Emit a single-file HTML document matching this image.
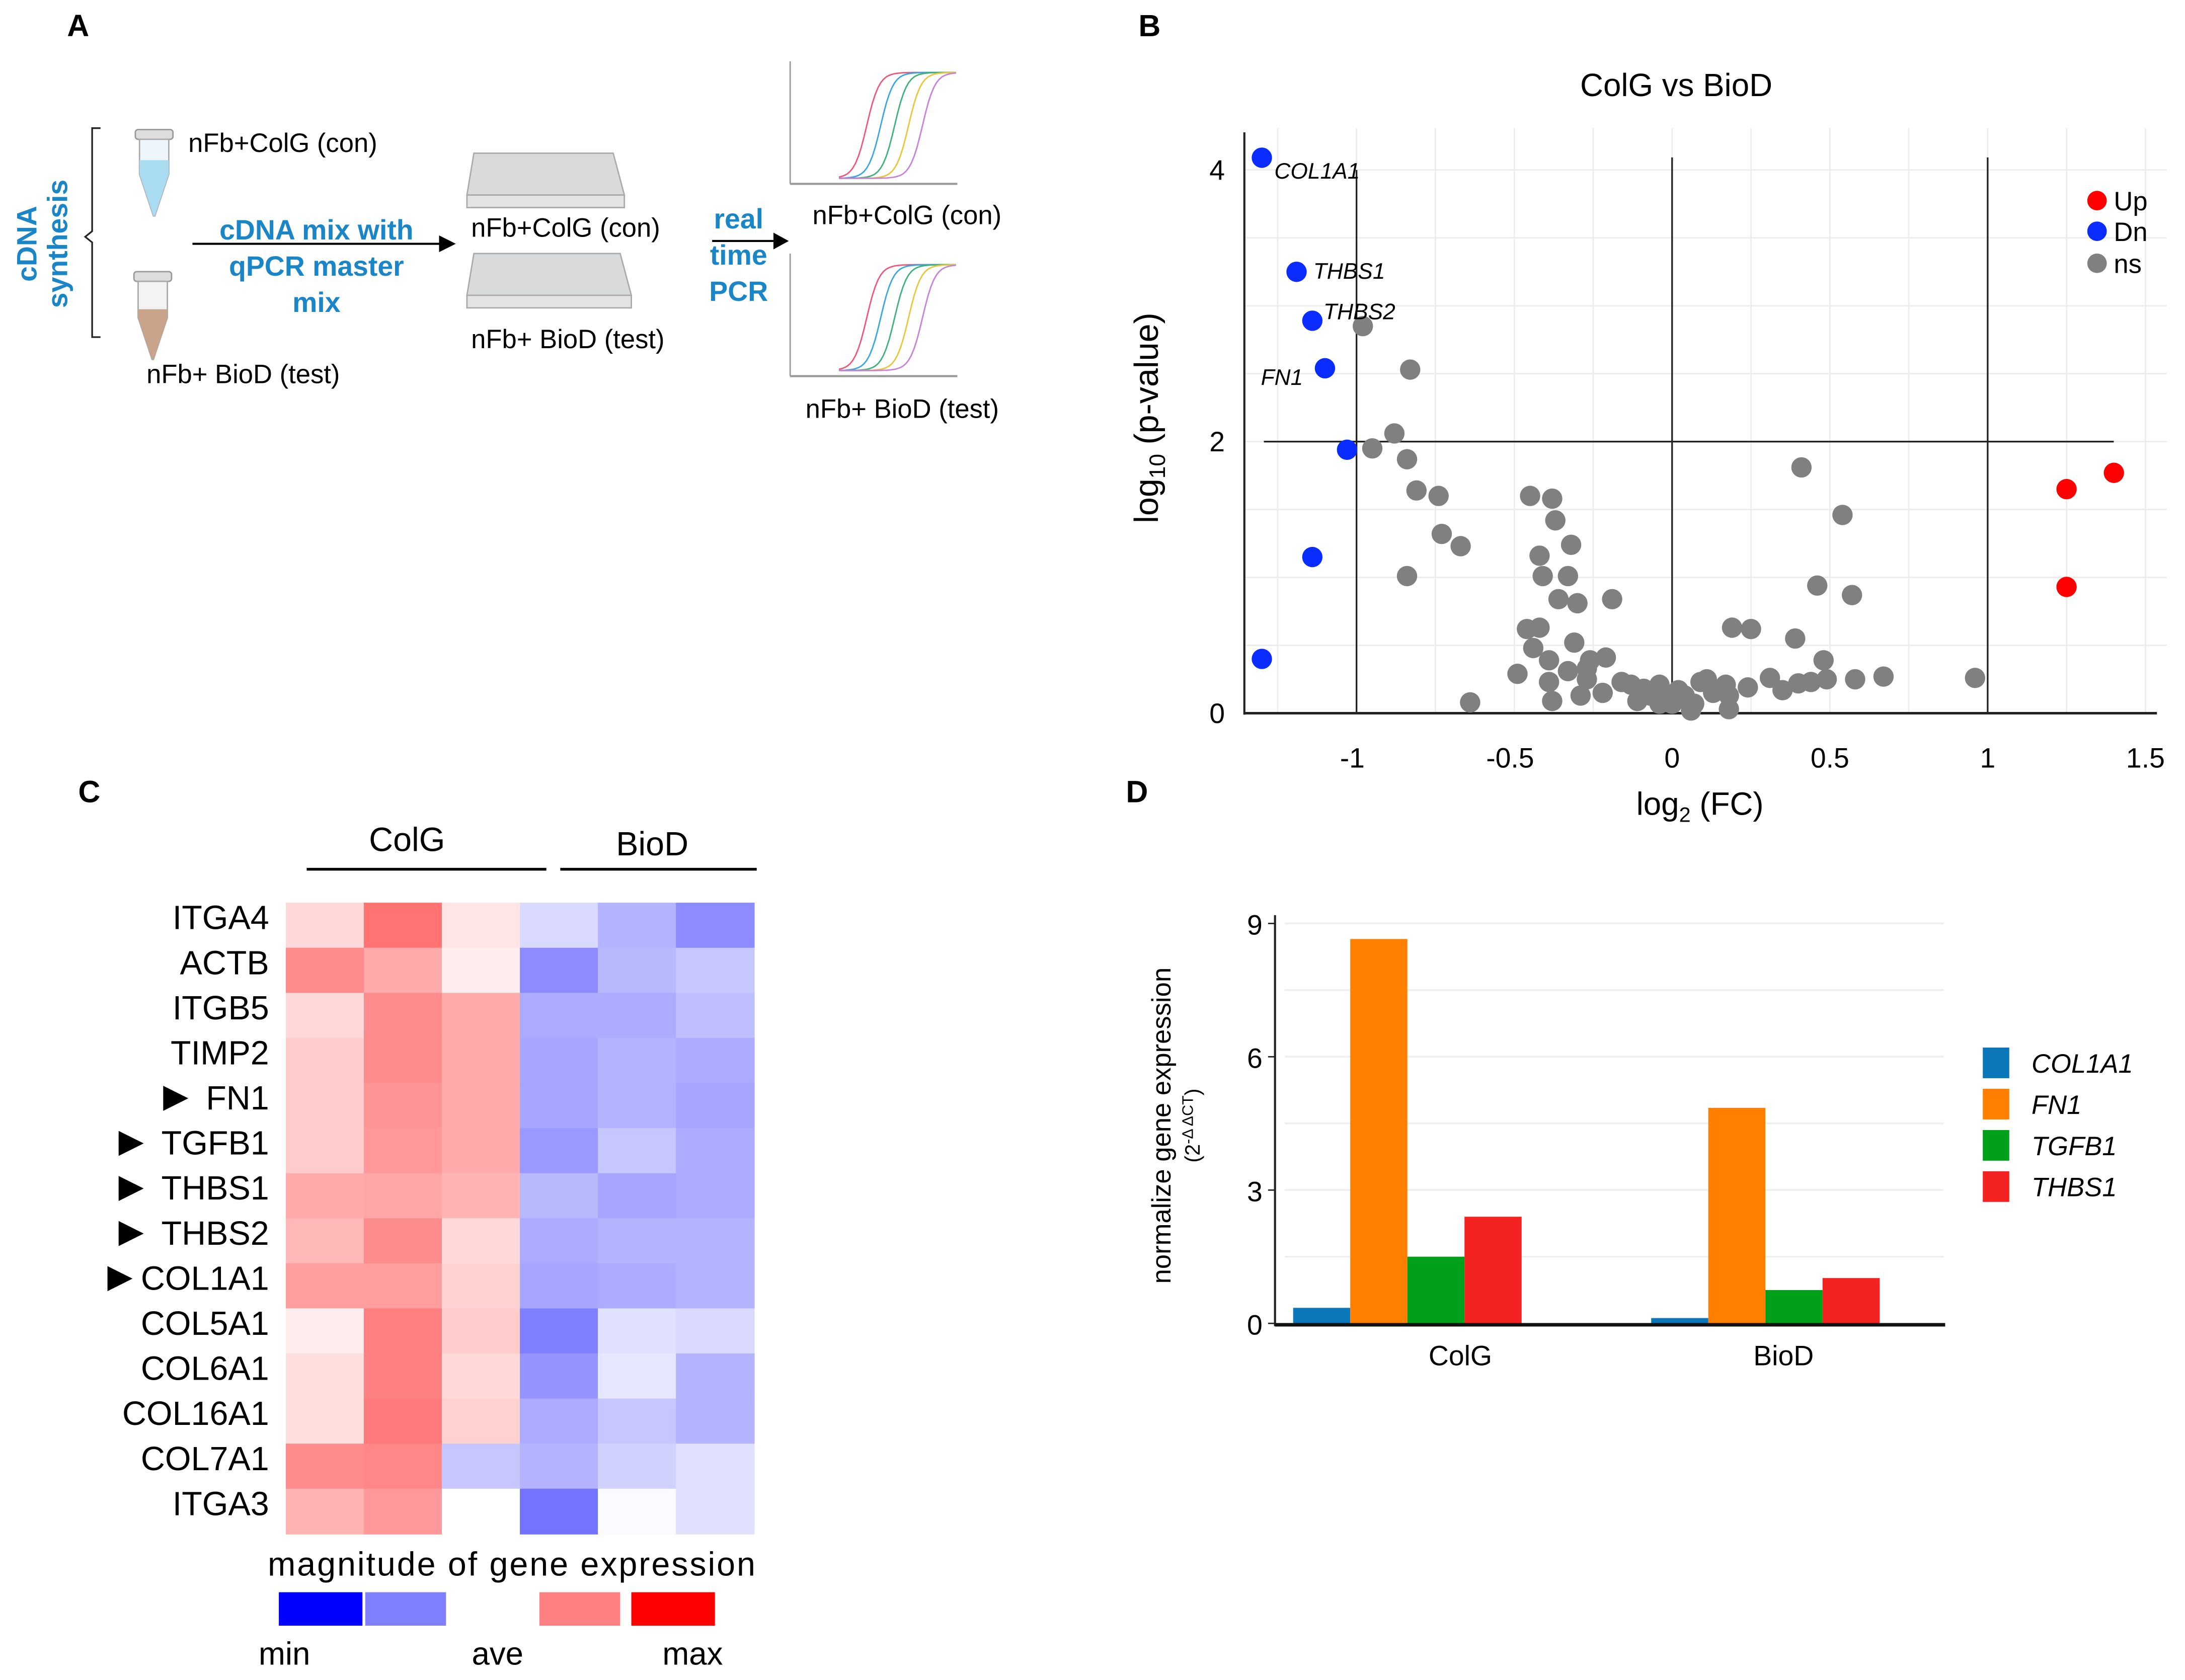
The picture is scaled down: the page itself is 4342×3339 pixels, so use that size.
<!DOCTYPE html>
<html><head><meta charset="utf-8"><style>
html,body{margin:0;padding:0;background:#fff}
svg{display:block}
text{font-family:"Liberation Sans",sans-serif}
</style></head><body>
<svg id="fig" width="4342" height="3339" viewBox="0 0 1568 1206" xmlns="http://www.w3.org/2000/svg">
<rect width="1568" height="1206" fill="#fff"/>
<!-- Panel A -->
<g>
<text x="48" y="26" font-size="22" font-weight="bold">A</text>
<path d="M72,92 L66,92 L66,166 L61,170 L66,174 L66,242 L72,242" fill="none" stroke="#222" stroke-width="1.2"/>
<text transform="translate(26,175) rotate(-90)" text-anchor="middle" font-size="20" font-weight="bold" fill="#1a86c8"><tspan x="0" y="0">cDNA</tspan><tspan x="0" y="22">synthesis</tspan></text>
<g>
<rect x="97" y="93" width="27" height="7" rx="2" fill="#ddd" stroke="#999"/>
<path d="M100,100 L121,100 L121,125 L111,155 L110,155 L100,125 Z" fill="#eef6fb" stroke="#aaa"/>
<path d="M100,115 L121,115 L121,125 L111,155 L110,155 L100,125 Z" fill="#a9dcf1"/>
</g>
<g>
<rect x="96" y="195" width="27" height="7" rx="2" fill="#ddd" stroke="#999"/>
<path d="M99,202 L120,202 L120,228 L110,258 L109,258 L99,228 Z" fill="#f3f3f3" stroke="#aaa"/>
<path d="M99,222 L120,222 L120,228 L110,258 L109,258 L99,228 Z" fill="#c9a48a"/>
</g>
<text x="135" y="109" font-size="19">nFb+ColG (con)</text>
<text x="105" y="275" font-size="19">nFb+ BioD (test)</text>
<line x1="138" y1="175" x2="315" y2="175" stroke="#000" stroke-width="1.5"/>
<path d="M315,169 L327,175 L315,181 Z" fill="#000"/>
<text x="227" y="172" text-anchor="middle" font-size="20" font-weight="bold" fill="#1a86c8"><tspan x="227">cDNA mix with</tspan><tspan x="227" dy="26">qPCR master</tspan><tspan x="227" dy="26">mix</tspan></text>
<g>
<path d="M340,110 L440,110 L448,140 L335,140 Z" fill="#d8dadc" stroke="#aaa"/>
<rect x="335" y="140" width="113" height="9" fill="#e4e4e4" stroke="#aaa"/>
</g>
<g>
<path d="M340,182 L445,182 L453,212 L335,212 Z" fill="#d8dadc" stroke="#aaa"/>
<rect x="335" y="212" width="118" height="9" fill="#e4e4e4" stroke="#aaa"/>
</g>
<text x="338" y="170" font-size="19">nFb+ColG (con)</text>
<text x="338" y="250" font-size="19">nFb+ BioD (test)</text>
<text x="530" y="164" text-anchor="middle" font-size="20" font-weight="bold" fill="#1a86c8"><tspan x="530">real</tspan><tspan x="530" dy="26">time</tspan><tspan x="530" dy="26">PCR</tspan></text>
<line x1="511" y1="173" x2="555" y2="173" stroke="#000" stroke-width="1.5"/>
<path d="M555,167 L566,173 L555,179 Z" fill="#000"/>
<g id="qpcr1"></g>
<g id="qpcr2"></g>
<text x="583" y="161" font-size="19">nFb+ColG (con)</text>
<text x="578" y="300" font-size="19">nFb+ BioD (test)</text>
</g>

<!-- Panel B -->
<g>
<text x="817" y="26" font-size="22" font-weight="bold">B</text>
<text x="1203" y="69" text-anchor="middle" font-size="23">ColG vs BioD</text>
<g id="volc"></g>
<text transform="translate(831,300) rotate(-90)" text-anchor="middle" font-size="24">log<tspan font-size="16" dy="5">10</tspan><tspan dy="-5"> (p-value)</tspan></text>
<text x="1220" y="585" text-anchor="middle" font-size="23">log<tspan font-size="15" dy="5">2</tspan><tspan dy="-5"> (FC)</tspan></text>
</g>

<!-- Panel C -->
<g>
<text x="56" y="576" font-size="22" font-weight="bold">C</text>
<text x="292" y="611" text-anchor="middle" font-size="24">ColG</text>
<line x1="220" y1="624" x2="392" y2="624" stroke="#000" stroke-width="2"/>
<text x="468" y="614" text-anchor="middle" font-size="24">BioD</text>
<line x1="402" y1="624" x2="543" y2="624" stroke="#000" stroke-width="2"/>
<g id="heat"></g>
<text x="367" y="1131" text-anchor="middle" font-size="24" textLength="350" lengthAdjust="spacing">magnitude of gene expression</text>
<rect x="200" y="1143" width="60" height="24" fill="#0000ff"/>
<rect x="262" y="1143" width="58" height="24" fill="#8080ff"/>
<rect x="387" y="1143" width="58" height="24" fill="#ff8080"/>
<rect x="453" y="1143" width="60" height="24" fill="#ff0000"/>
<text x="204" y="1195" text-anchor="middle" font-size="23">min</text>
<text x="357" y="1195" text-anchor="middle" font-size="23">ave</text>
<text x="497" y="1195" text-anchor="middle" font-size="23">max</text>
</g>

<!-- Panel D -->
<g>
<text x="808" y="576" font-size="22" font-weight="bold">D</text>
<g id="bars"></g>
<text transform="translate(840,808) rotate(-90)" text-anchor="middle" font-size="19">normalize gene expression</text>
<text transform="translate(861,808) rotate(-90)" text-anchor="middle" font-size="15">(2<tspan font-size="11" dy="-5">-Δ ΔCT</tspan><tspan dy="5">)</tspan></text>
</g>
</svg>
<script>
const NS="http://www.w3.org/2000/svg";
function mk(parent,tag,attrs){const e=document.createElementNS(NS,tag);for(const k in attrs)e.setAttribute(k,attrs[k]);parent.appendChild(e);return e;}

// ---------- Volcano data ----------
const downX=[-1.30,-1.19,-1.14,-1.10,-1.03,-1.14,-1.30];
const downY=[4.09,3.25,2.89,2.54,1.94,1.15,0.40];
const downLabels=["COL1A1","THBS1","THBS2","FN1","","",""];
const upX=[1.40,1.25,1.25];
const upY=[1.77,1.65,0.93];
const nsX=[-0.98,-0.83,-0.88,-0.95,-0.84,-0.81,-0.74,-0.73,-0.67,-0.84,-0.45,-0.38,-0.37,-0.42,-0.32,-0.41,-0.33,-0.36,-0.30,-0.42,-0.19,-0.46,-0.44,-0.31,-0.39,-0.39,-0.26,-0.27,-0.21,-0.33,-0.49,-0.27,-0.16,-0.64,-0.38,-0.29,-0.22,-0.13,-0.09,-0.07,-0.04,-0.02,0.02,0.04,0.07,0.09,0.11,-0.04,-0.11,0.00,0.06,0.17,0.18,0.19,0.25,0.24,0.31,0.35,0.39,0.40,0.44,0.48,0.49,0.41,0.54,0.46,0.57,0.58,0.67,0.96,0.18,0.13];
const nsY=[2.85,2.53,2.06,1.95,1.87,1.64,1.60,1.32,1.23,1.01,1.60,1.58,1.42,1.16,1.24,1.01,1.01,0.84,0.81,0.63,0.84,0.62,0.48,0.52,0.39,0.23,0.39,0.33,0.41,0.31,0.29,0.25,0.23,0.08,0.09,0.13,0.15,0.21,0.18,0.13,0.21,0.14,0.17,0.13,0.07,0.23,0.25,0.07,0.09,0.07,0.02,0.21,0.13,0.63,0.62,0.19,0.26,0.17,0.55,0.22,0.23,0.39,0.25,1.81,1.46,0.94,0.87,0.25,0.27,0.26,0.03,0.15];
const xTicks=[-1,-0.5,0,0.5,1,1.5];
const yTicks=[0,2,4];

const vx=v=>1200+v*226.5, vy=v=>512-v*97.5;
const volc=document.getElementById('volc');
[-1.25,-0.75,-0.25,0.25,0.75,1.25,-1,-0.5,0,0.5,1,1.5].forEach(t=>{const l=mk(volc,'line',{x1:vx(t),x2:vx(t),y1:92,y2:512,stroke:'#ececec','stroke-width':1});

});
[0.5,1,1.5,2,2.5,3,3.5,4].forEach(t=>{const l=mk(volc,'line',{x1:893,x2:1555,y1:vy(t),y2:vy(t),stroke:'#ececec','stroke-width':1});

});
mk(volc,'line',{x1:893,x2:893,y1:95,y2:513,stroke:'#222','stroke-width':1.5});
mk(volc,'line',{x1:893,x2:1548,y1:512,y2:512,stroke:'#222','stroke-width':1.8});
[-1,0,1].forEach(t=>{const l=mk(volc,'line',{x1:vx(t),x2:vx(t),y1:t===-1?122:113,y2:512,stroke:'#222','stroke-width':1.2});

});
const th=mk(volc,'line',{x1:907,x2:1517,y1:vy(2),y2:vy(2),stroke:'#222','stroke-width':1.2});


xTicks.forEach(t=>{const e=mk(volc,'text',{x:vx(t)-(t<0?3:0),y:551,'text-anchor':'middle','font-size':20});e.textContent=String(t);

});
yTicks.forEach(t=>{const e=mk(volc,'text',{x:879,y:vy(t)+7,'text-anchor':'end','font-size':20});e.textContent=String(t);

});
nsX.forEach((x,i)=>{const c=mk(volc,'circle',{cx:vx(x),cy:vy(nsY[i]),r:7.3,fill:'#808080'});

});
downX.forEach((x,i)=>{const c=mk(volc,'circle',{cx:vx(x),cy:vy(downY[i]),r:7.3,fill:'#0a2cff'});

});
upX.forEach((x,i)=>{const c=mk(volc,'circle',{cx:vx(x),cy:vy(upY[i]),r:7.3,fill:'#ff0000'});

});
const lblOff=[[9,15],[12,5],[8,-1],[-46,12]];
downLabels.forEach((s,i)=>{if(!s)return;const e=mk(volc,'text',{x:vx(downX[i])+lblOff[i][0],y:vy(downY[i])+lblOff[i][1],'font-size':16,'font-style':'italic'});e.textContent=s;

});
const leg=[['Up','#ff0000',144],['Dn','#0a2cff',166],['ns','#808080',189]];
leg.forEach(l=>{const c=mk(volc,'circle',{cx:1505,cy:l[2],r:7,fill:l[1]});


const t=mk(volc,'text',{x:1517,y:l[2]+7,'font-size':19});t.textContent=l[0];

});

// ---------- qPCR curves ----------
function qpcr(g,ox,oy){
  mk(g,'line',{x1:ox,x2:ox,y1:oy,y2:oy+88,stroke:'#999','stroke-width':1});
  mk(g,'line',{x1:ox,x2:ox+120,y1:oy+88,y2:oy+88,stroke:'#999','stroke-width':1.5});
  const cols=['#f0567a','#3aa6e0','#3bb27a','#e6c63a','#c880d8'];
  cols.forEach((c,i)=>{const mid=ox+55+i*10;let d='';for(let x=ox+35;x<=ox+120;x+=2){const y=oy+84-76/(1+Math.exp(-(x-mid)/4.5));d+=(d?'L':'M')+x+','+y.toFixed(1);}
  mk(g,'path',{d:d,fill:'none',stroke:c,'stroke-width':1});});
}
qpcr(document.getElementById('qpcr1'),567,44);
qpcr(document.getElementById('qpcr2'),567,182);

// ---------- Heatmap ----------
const genes=["ITGA4","ACTB","ITGB5","TIMP2","FN1","TGFB1","THBS1","THBS2","COL1A1","COL5A1","COL6A1","COL16A1","COL7A1","ITGA3"];
const marked=["FN1","TGFB1","THBS1","THBS2","COL1A1"];
const hITGA4=[0.15,0.55,0.1,-0.15,-0.3,-0.45];
const hACTB=[0.45,0.33,0.07,-0.45,-0.28,-0.22];
const hITGB5=[0.15,0.45,0.33,-0.33,-0.33,-0.25];
const hTIMP2=[0.2,0.45,0.33,-0.35,-0.3,-0.33];
const hFN1=[0.2,0.42,0.33,-0.35,-0.3,-0.35];
const hTGFB1=[0.2,0.4,0.33,-0.4,-0.22,-0.33];
const hTHBS1=[0.33,0.35,0.3,-0.28,-0.35,-0.33];
const hTHBS2=[0.28,0.45,0.15,-0.33,-0.3,-0.3];
const hCOL1A1=[0.38,0.38,0.18,-0.35,-0.33,-0.3];
const hCOL5A1=[0.07,0.5,0.2,-0.5,-0.12,-0.15];
const hCOL6A1=[0.13,0.5,0.15,-0.42,-0.1,-0.3];
const hCOL16A1=[0.13,0.52,0.18,-0.33,-0.22,-0.3];
const hCOL7A1=[0.45,0.47,-0.22,-0.3,-0.18,-0.12];
const hITGA3=[0.3,0.4,0,-0.55,-0.02,-0.12];
const heatRows=[hITGA4,hACTB,hITGB5,hTIMP2,hFN1,hTGFB1,hTHBS1,hTHBS2,hCOL1A1,hCOL5A1,hCOL6A1,hCOL16A1,hCOL7A1,hITGA3];
const heat=document.getElementById('heat');
const hx0=205,hcw=56,hy0=648,hrh=32.36;
function hcol(v){const t=Math.min(1,Math.abs(v));const w=Math.round(255*(1-t));return v>=0?`rgb(255,${w},${w})`:`rgb(${w},${w},255)`;}
heatRows.forEach((row,r)=>{row.forEach((v,c)=>{const e=mk(heat,'rect',{x:hx0+c*hcw,y:hy0+r*hrh,width:hcw+0.5,height:hrh+0.5,fill:hcol(v)});

});
const t=mk(heat,'text',{x:193,y:hy0+r*hrh+19,'text-anchor':'end','font-size':24});t.textContent=genes[r];


if(marked.includes(genes[r])){const tw=genes[r].length*16;const ax=193-tw-(genes[r]==='COL1A1'?20:28);const cy=hy0+r*hrh+11;
const m=mk(heat,'path',{d:`M${ax},${cy-9} L${ax+18},${cy} L${ax},${cy+9} Z`,fill:'#000'});

}});

// ---------- Bar chart ----------
const barGroups=["ColG","BioD"];
const barSeries=["COL1A1","FN1","TGFB1","THBS1"];
const barColors=["#0b77b9","#ff8000","#00a01a","#f52222"];
const valCOL1A1=[0.35,0.12];
const valFN1=[8.65,4.85];
const valTGFB1=[1.5,0.75];
const valTHBS1=[2.4,1.02];
const barVals=[valCOL1A1,valFN1,valTGFB1,valTHBS1];
const barTicks=[0,3,6,9];
const bars=document.getElementById('bars');
const by=v=>950-v*31.9;const groupX=[928,1185];const bw=41;const labelX=[1048,1280];
[1.5,3,4.5,6,7.5,9].forEach(t=>{const l=mk(bars,'line',{x1:922,x2:1395,y1:by(t),y2:by(t),stroke:'#eee','stroke-width':1.2});

});
barVals.forEach((vals,s)=>vals.forEach((v,g)=>{const r=mk(bars,'rect',{x:groupX[g]+s*bw,y:by(v),width:bw,height:950-by(v),fill:barColors[s]});

}));
mk(bars,'line',{x1:915,x2:915,y1:657,y2:952,stroke:'#222','stroke-width':1.5});
mk(bars,'line',{x1:915,x2:1396,y1:951,y2:951,stroke:'#111','stroke-width':2.5});
barTicks.forEach(t=>{mk(bars,'line',{x1:910,x2:915,y1:by(t),y2:by(t),stroke:'#222'});
const e=mk(bars,'text',{x:906,y:by(t)+8,'text-anchor':'end','font-size':20});e.textContent=String(t);

});
barGroups.forEach((g,i)=>{const e=mk(bars,'text',{x:labelX[i],y:980,'text-anchor':'middle','font-size':20});e.textContent=g;

});
barSeries.forEach((s,i)=>{const yy=752+i*29.6;const r=mk(bars,'rect',{x:1423,y:yy,width:19,height:22,fill:barColors[i]});


const t=mk(bars,'text',{x:1458,y:yy+18,'font-size':19,'font-style':'italic'});t.textContent=s;

});
</script>
</body></html>
